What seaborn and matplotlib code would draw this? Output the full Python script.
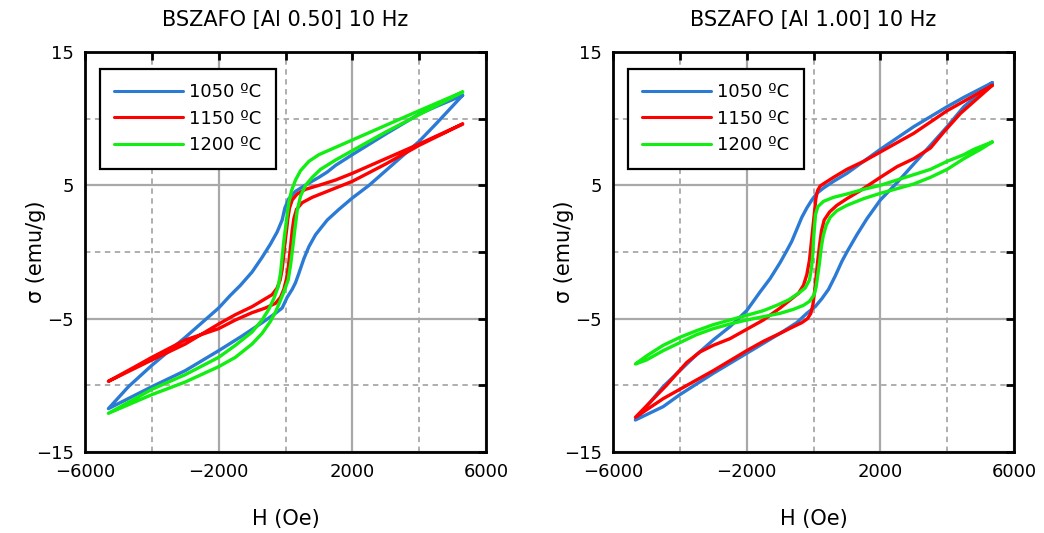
import numpy as np
import pandas as pd
import seaborn as sns
import matplotlib.pyplot as plt
from matplotlib.ticker import FixedLocator

# ---- dados (loop fechado: ramo de descida e depois de subida) ----
temps = ["1050 ºC", "1150 ºC", "1200 ºC"]
cores = ["#2b7bd6", "#ff0000", "#11ee11"]
titulos = ["BSZAFO [Al 0.50] 10 Hz", "BSZAFO [Al 1.00] 10 Hz"]

# Al 0.50
h_a050_1050 = [5300, 4500, 4000, 3000, 2000, 1500, 1250, 1000, 650, 300, 100, -20, -100, -250, -450, -700, -1000, -1350,
               -1650, -2000, -2500, -3000, -3500, -4000, -4700, -5300,
               -4000, -3000, -2000, -1300, -700, -300, -100, 50, 200, 300, 400, 550, 700, 900, 1250, 1600, 2000,
               2500, 3000, 3500, 4000, 4500, 5300]
s_a050_1050 = [11.75, 10.9, 10.35, 8.85, 7.3, 6.5, 6.0, 5.6, 5.1, 4.55, 4.0, 3.3, 2.4, 1.5, 0.6, -0.4, -1.5, -2.5,
               -3.25, -4.2, -5.3, -6.4, -7.45, -8.5, -10.1, -11.75,
               -10.1, -8.9, -7.4, -6.3, -5.3, -4.6, -4.2, -3.4, -2.8, -2.3, -1.6, -0.5, 0.4, 1.3, 2.4, 3.2, 4.05,
               5.0, 6.1, 7.2, 8.3, 9.6, 11.75]
h_a050_1150 = [5300, 4000, 3000, 2000, 1500, 1000, 600, 350, 200, 120, 70, 30, -20, -60, -100, -160, -250, -400, -600,
               -1000, -1500, -2000, -3000, -4000, -5300,
               -4500, -4000, -3000, -2000, -1500, -1000, -600, -300, -150, -50, 30, 80, 120, 160, 200, 250, 330, 500,
               800, 1200, 2000, 3000, 4000, 5300]
s_a050_1150 = [9.6, 8.1, 7.0, 5.9, 5.4, 5.0, 4.7, 4.35, 3.9, 3.3, 2.5, 1.6, 0.6, -0.4, -1.3, -2.1, -2.7, -3.2, -3.5,
               -4.1, -4.7, -5.4, -6.9, -8.1, -9.7,
               -8.6, -7.9, -6.6, -5.75, -5.1, -4.55, -4.2, -3.85, -3.4, -2.8, -2.0, -1.2, -0.3, 0.6, 1.6, 2.5, 3.2, 3.7,
               4.1, 4.5, 5.3, 6.6, 8.0, 9.6]
h_a050_1200 = [5300, 4000, 3000, 2000, 1500, 1000, 700, 450, 300, 180, 100, 50, 0, -50, -100, -150, -220, -350, -500,
               -700, -1000, -1500, -2000, -3000, -4000, -5300,
               -4000, -3000, -2000, -1500, -1000, -700, -450, -300, -180, -50, 80, 150, 220, 280, 350, 450, 600, 800,
               1050, 1500, 2000, 3000, 4000, 5300]
s_a050_1200 = [12.0, 10.6, 9.5, 8.4, 7.85, 7.3, 6.8, 6.1, 5.4, 4.6, 3.7, 2.8, 1.8, 0.8, -0.4, -1.6, -2.6, -3.5, -4.3,
               -5.1, -6.0, -7.0, -7.9, -9.2, -10.3, -12.1,
               -10.7, -9.75, -8.6, -7.9, -6.9, -6.1, -5.2, -4.5, -3.8, -3.0, -2.1, -1.0, 0.4, 1.7, 3.1, 4.2, 5.0, 5.6,
               6.2, 6.9, 7.6, 9.0, 10.3, 12.0]

# Al 1.00
h_a100_1050 = [5350, 4500, 4000, 3000, 2000, 1500, 1000, 600, 300, 100, -50, -200, -350, -500, -650, -800, -1000, -1300,
               -1600, -2000, -2500, -3000, -3500, -4000, -4500, -5330,
               -4500, -4000, -3000, -2000, -1000, -500, -200, 50, 250, 450, 650, 850, 1000, 1300, 1600, 2000, 2500,
               3000, 3500, 4000, 4500, 5350]
s_a100_1050 = [12.7, 11.6, 10.9, 9.4, 7.7, 6.8, 5.9, 5.3, 4.8, 4.4, 3.9, 3.3, 2.6, 1.7, 0.8, 0.1, -0.8, -2.0,
               -3.0, -4.4, -5.6, -6.6, -7.7, -8.9, -10.1, -12.6,
               -11.6, -10.7, -9.1, -7.6, -6.1, -5.3, -4.6, -4.1, -3.5, -2.8, -1.8, -0.7, 0.0, 1.3, 2.5, 3.9, 5.2,
               6.6, 8.0, 9.4, 10.9, 12.7]
h_a100_1150 = [5350, 4500, 4000, 3000, 2000, 1500, 1000, 600, 350, 200, 120, 70, 30, -20, -70, -120, -200, -300, -450,
               -700, -1000, -1500, -2000, -2500, -3000, -3400, -3800, -4400, -5330,
               -4500, -4000, -3000, -2000, -1500, -1000, -600, -350, -180, -80, -20, 30, 80, 130, 180, 240, 320, 480,
               700, 1000, 1400, 2000, 2500, 3000, 3500, 3900, 4400, 5350]
s_a100_1150 = [12.5, 11.3, 10.6, 8.9, 7.5, 6.8, 6.2, 5.6, 5.2, 4.95, 4.6, 4.0, 3.0, 1.8, 0.6, -0.6, -1.7, -2.5, -3.1,
               -3.6, -4.2, -5.1, -5.8, -6.5, -7.0, -7.5, -8.3, -10.0, -12.4,
               -11.0, -10.3, -8.9, -7.4, -6.7, -6.1, -5.6, -5.3, -5.0, -4.6, -4.0, -3.0, -1.8, -0.6, 0.5, 1.6, 2.4, 3.0,
               3.5, 4.0, 4.6, 5.6, 6.4, 7.0, 7.8, 9.0, 10.4, 12.5]
h_a100_1200 = [5350, 4800, 4500, 4000, 3500, 3000, 2500, 2000, 1500, 1000, 600, 300, 130, 60, 30, 0, -20, -60, -120,
               -250, -450, -750, -1100, -1500, -2000, -2500, -3000, -3500, -4000, -4500, -5000, -5330,
               -5000, -4500, -4000, -3500, -3000, -2500, -2000, -1500, -1000, -600, -300, -120, 20, 80, 130, 180, 230,
               290, 380, 500, 700, 1000, 1500, 2000, 2500, 3000, 3500, 4000, 4500, 5000, 5350]
s_a100_1200 = [8.25, 7.7, 7.3, 6.8, 6.2, 5.8, 5.4, 5.0, 4.7, 4.35, 4.1, 3.8, 3.4, 2.8, 1.9, 0.9, -0.1, -1.2, -2.1,
               -2.7, -3.1, -3.6, -4.0, -4.4, -4.75, -5.1, -5.45, -5.9, -6.4, -7.0, -7.8, -8.4,
               -8.1, -7.4, -6.8, -6.2, -5.75, -5.4, -5.1, -4.85, -4.6, -4.3, -4.0, -3.7, -3.2, -2.6, -1.7, -0.8, 0.3,
               1.2, 2.0, 2.6, 3.1, 3.5, 4.0, 4.4, 4.75, 5.1, 5.6, 6.2, 7.0, 7.7, 8.25]

paineis = [
    [(h_a050_1050, s_a050_1050), (h_a050_1150, s_a050_1150), (h_a050_1200, s_a050_1200)],
    [(h_a100_1050, s_a100_1050), (h_a100_1150, s_a100_1150), (h_a100_1200, s_a100_1200)],
]

sns.set_style("white")
plt.rcParams['font.family'] = ['DejaVu Sans']
plt.rcParams['text.color'] = 'black'
plt.rcParams['axes.labelcolor'] = 'black'

fig = plt.figure(figsize=(10.44, 5.33), dpi=100)
posicoes = [[85 / 1044, 81 / 533, 401 / 1044, 400 / 533],
            [613 / 1044, 81 / 533, 401 / 1044, 400 / 533]]

for i, pos in enumerate(posicoes):
    ax = fig.add_axes(pos)
    linhas = []
    for t, (h, s) in zip(temps, paineis[i]):
        linhas.append(pd.DataFrame({"H": h, "sigma": s, "T": t}))
    df = pd.concat(linhas, ignore_index=True)
    sns.lineplot(data=df, x="H", y="sigma", hue="T", palette=cores, sort=False,
                 estimator=None, lw=2.4, ax=ax)

    ax.set_xlim(-6000, 6000)
    ax.set_ylim(-15, 15)
    ax.xaxis.set_major_locator(FixedLocator([-6000, -2000, 2000, 6000]))
    ax.xaxis.set_minor_locator(FixedLocator([-4000, 0, 4000]))
    ax.yaxis.set_major_locator(FixedLocator([-15, -5, 5, 15]))
    ax.yaxis.set_minor_locator(FixedLocator([-10, 0, 10]))
    ax.grid(which='major', color='#a8a8a8', lw=1.6, ls='-')
    ax.grid(which='minor', color='#a8a8a8', lw=1.3, ls=(0, (3, 2.5)))
    ax.set_axisbelow(True)
    ax.tick_params(which='both', direction='in', top=True, right=True,
                   length=6, width=2, colors='black', labelsize=13, pad=8)
    for sp in ax.spines.values():
        sp.set_linewidth(2)
        sp.set_color('black')

    ax.set_title(titulos[i], fontsize=15, pad=19)
    ax.set_xlabel("H (Oe)", fontsize=15, labelpad=20)
    ax.set_ylabel("σ (emu/g)", fontsize=15, labelpad=-7)

    leg = ax.legend(loc='upper left', fontsize=13, frameon=True, fancybox=False,
                    edgecolor='black', handlelength=3.8, handletextpad=0.35,
                    borderpad=0.8, labelspacing=0.46, borderaxespad=0,
                    bbox_to_anchor=(0.037, 0.9575))
    leg.get_frame().set_linewidth(1.6)
    leg.get_frame().set_alpha(1)
    for l in leg.get_lines():
        l.set_linewidth(2.2)

fig.savefig("out.png", dpi=100, facecolor='white')
